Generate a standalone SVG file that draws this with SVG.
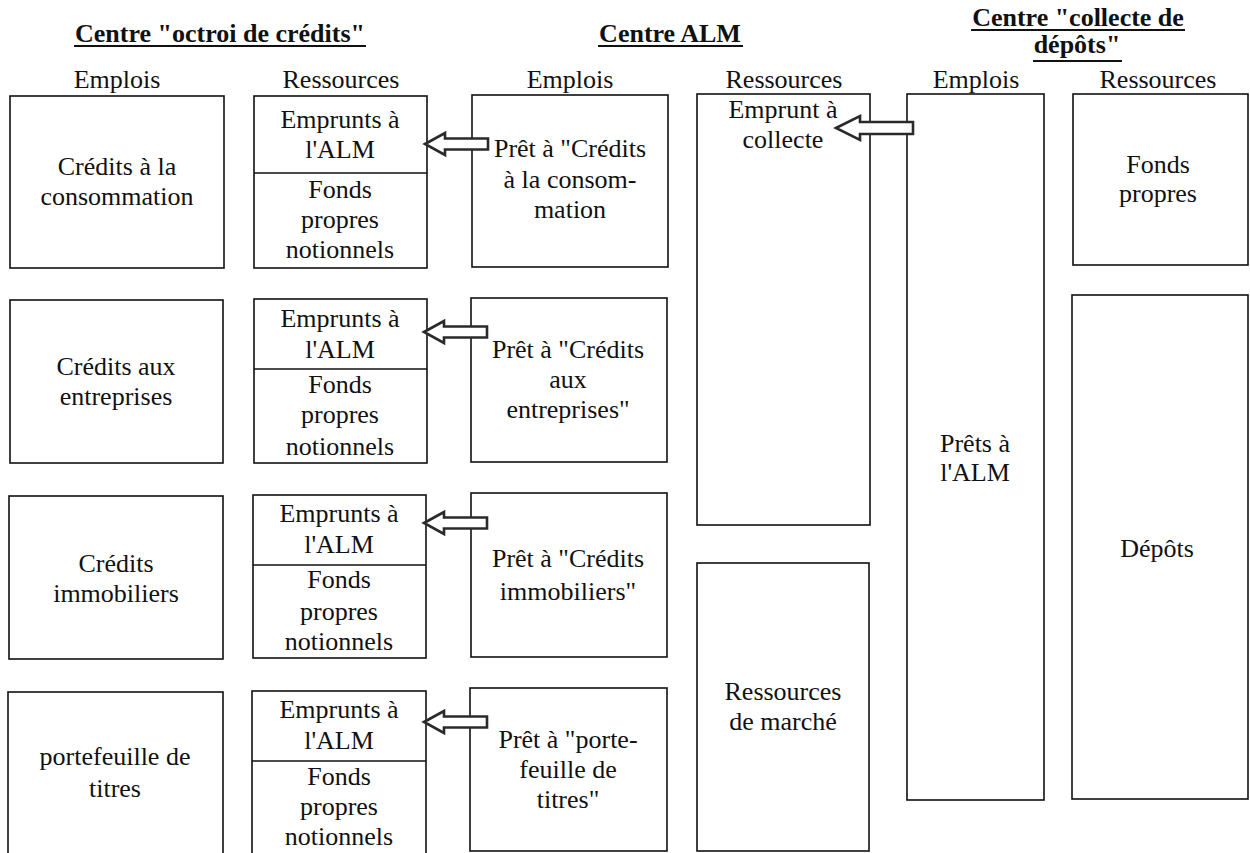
<svg xmlns="http://www.w3.org/2000/svg" xmlns:xlink="http://www.w3.org/1999/xlink" width="1250" height="853" viewBox="0 0 1250 853">
<style>
  .box { fill: #fff; stroke: #111; stroke-width: 1.6; }
  .div { stroke: #111; stroke-width: 1.6; }
  text { font-family: "Liberation Serif", Tinos, "Times New Roman", "DejaVu Serif", "Noto Serif", serif; font-size: 26px; fill: #111; text-anchor: middle; }
  .title { font-weight: bold; }
  .ul { stroke: #111; stroke-width: 1.8; }
  .arrow { fill: #fff; stroke: #2a2a2a; stroke-width: 2.6; stroke-linejoin: miter; }
</style>
<defs>
  <path id="arr" d="M0,0 L20,-11 L20,-5.5 L63,-5.5 L63,5.5 L20,5.5 L20,11 Z"/>
</defs>
<rect width="1250" height="853" fill="#fff"/>

<g id="titles">
  <text class="title" x="220" y="42">Centre "octroi de crédits"</text>
  <line class="ul" x1="74" y1="46" x2="366" y2="46"/>
  <text class="title" x="670" y="42">Centre ALM</text>
  <line class="ul" x1="598" y1="46" x2="743" y2="46"/>
  <text class="title" x="1078" y="26">Centre "collecte de</text>
  <line class="ul" x1="971" y1="30" x2="1185" y2="30"/>
  <text class="title" x="1077" y="53">dépôts"</text>
  <line class="ul" x1="1033" y1="61" x2="1122" y2="61"/>
</g>

<g id="headers">
  <text x="117" y="88">Emplois</text>
  <text x="341" y="88">Ressources</text>
  <text x="570" y="88">Emplois</text>
  <text x="784" y="88">Ressources</text>
  <text x="976" y="88">Emplois</text>
  <text x="1158" y="88">Ressources</text>
</g>

<!-- Centre octroi de crédits : Emplois -->
<g id="emp-conso">
  <rect class="box" x="10" y="96" width="214" height="172"/>
  <text x="117" y="175">Crédits à la</text>
  <text x="117" y="205">consommation</text>
</g>
<g id="emp-entreprises">
  <rect class="box" x="10" y="300" width="213" height="163"/>
  <text x="116" y="375">Crédits aux</text>
  <text x="116" y="405">entreprises</text>
</g>
<g id="emp-immo">
  <rect class="box" x="9" y="496" width="214" height="163"/>
  <text x="116" y="572">Crédits</text>
  <text x="116" y="602">immobiliers</text>
</g>
<g id="emp-titres">
  <rect class="box" x="8" y="692" width="215" height="166"/>
  <text x="115" y="765">portefeuille de</text>
  <text x="115" y="797">titres</text>
</g>

<!-- Centre octroi de crédits : Ressources -->
<g id="res-conso">
  <rect class="box" x="254" y="96" width="173" height="172"/>
  <line class="div" x1="254" y1="173" x2="427" y2="173"/>
  <text x="340" y="128">Emprunts à</text>
  <text x="340" y="158">l'ALM</text>
  <text x="340" y="198">Fonds</text>
  <text x="340" y="228">propres</text>
  <text x="340" y="258">notionnels</text>
</g>
<g id="res-entreprises">
  <rect class="box" x="254" y="299" width="173" height="164"/>
  <line class="div" x1="254" y1="369" x2="427" y2="369"/>
  <text x="340" y="327">Emprunts à</text>
  <text x="340" y="358">l'ALM</text>
  <text x="340" y="393">Fonds</text>
  <text x="340" y="423">propres</text>
  <text x="340" y="455">notionnels</text>
</g>
<g id="res-immo">
  <rect class="box" x="253" y="495" width="173" height="163"/>
  <line class="div" x1="253" y1="565" x2="426" y2="565"/>
  <text x="339" y="522">Emprunts à</text>
  <text x="339" y="553">l'ALM</text>
  <text x="339" y="588">Fonds</text>
  <text x="339" y="620">propres</text>
  <text x="339" y="650">notionnels</text>
</g>
<g id="res-titres">
  <rect class="box" x="252" y="691" width="174" height="167"/>
  <line class="div" x1="252" y1="761" x2="426" y2="761"/>
  <text x="339" y="718">Emprunts à</text>
  <text x="339" y="749">l'ALM</text>
  <text x="339" y="785">Fonds</text>
  <text x="339" y="815">propres</text>
  <text x="339" y="845">notionnels</text>
</g>

<!-- Centre ALM : Emplois -->
<g id="alm-pret-conso">
  <rect class="box" x="472" y="95" width="196" height="172"/>
  <text x="570" y="157">Prêt à "Crédits</text>
  <text x="570" y="188">à la consom-</text>
  <text x="570" y="218">mation</text>
</g>
<g id="alm-pret-entreprises">
  <rect class="box" x="471" y="298" width="196" height="164"/>
  <text x="568" y="358">Prêt à "Crédits</text>
  <text x="568" y="388">aux</text>
  <text x="568" y="418">entreprises"</text>
</g>
<g id="alm-pret-immo">
  <rect class="box" x="471" y="493" width="196" height="164"/>
  <text x="568" y="567">Prêt à "Crédits</text>
  <text x="568" y="600">immobiliers"</text>
</g>
<g id="alm-pret-titres">
  <rect class="box" x="470" y="688" width="197" height="163"/>
  <text x="568" y="748">Prêt à "porte-</text>
  <text x="568" y="778">feuille de</text>
  <text x="568" y="808">titres"</text>
</g>

<!-- Centre ALM : Ressources -->
<g id="alm-emprunt-collecte">
  <rect class="box" x="697" y="94" width="173" height="431"/>
  <text x="783" y="118">Emprunt à</text>
  <text x="783" y="148">collecte</text>
</g>
<g id="alm-ressources-marche">
  <rect class="box" x="697" y="563" width="172" height="288"/>
  <text x="783" y="700">Ressources</text>
  <text x="783" y="730">de marché</text>
</g>

<!-- Centre collecte de dépôts -->
<g id="col-prets-alm">
  <rect class="box" x="907" y="94" width="137" height="706"/>
  <text x="975" y="452">Prêts à</text>
  <text x="975" y="481">l'ALM</text>
</g>
<g id="col-fonds-propres">
  <rect class="box" x="1073" y="94" width="175" height="171"/>
  <text x="1158" y="173">Fonds</text>
  <text x="1158" y="202">propres</text>
</g>
<g id="col-depots">
  <rect class="box" x="1072" y="295" width="176" height="504"/>
  <text x="1157" y="557">Dépôts</text>
</g>

<g id="connectors">
  <use xlink:href="#arr" href="#arr" class="arrow" transform="translate(425,144)"/>
  <use xlink:href="#arr" href="#arr" class="arrow" transform="translate(424,332)"/>
  <use xlink:href="#arr" href="#arr" class="arrow" transform="translate(424,523)"/>
  <use xlink:href="#arr" href="#arr" class="arrow" transform="translate(424,722)"/>
  <path class="arrow" d="M836,128 L860,116 L860,122 L913,122 L913,134 L860,134 L860,140 Z"/>
</g>
</svg>
